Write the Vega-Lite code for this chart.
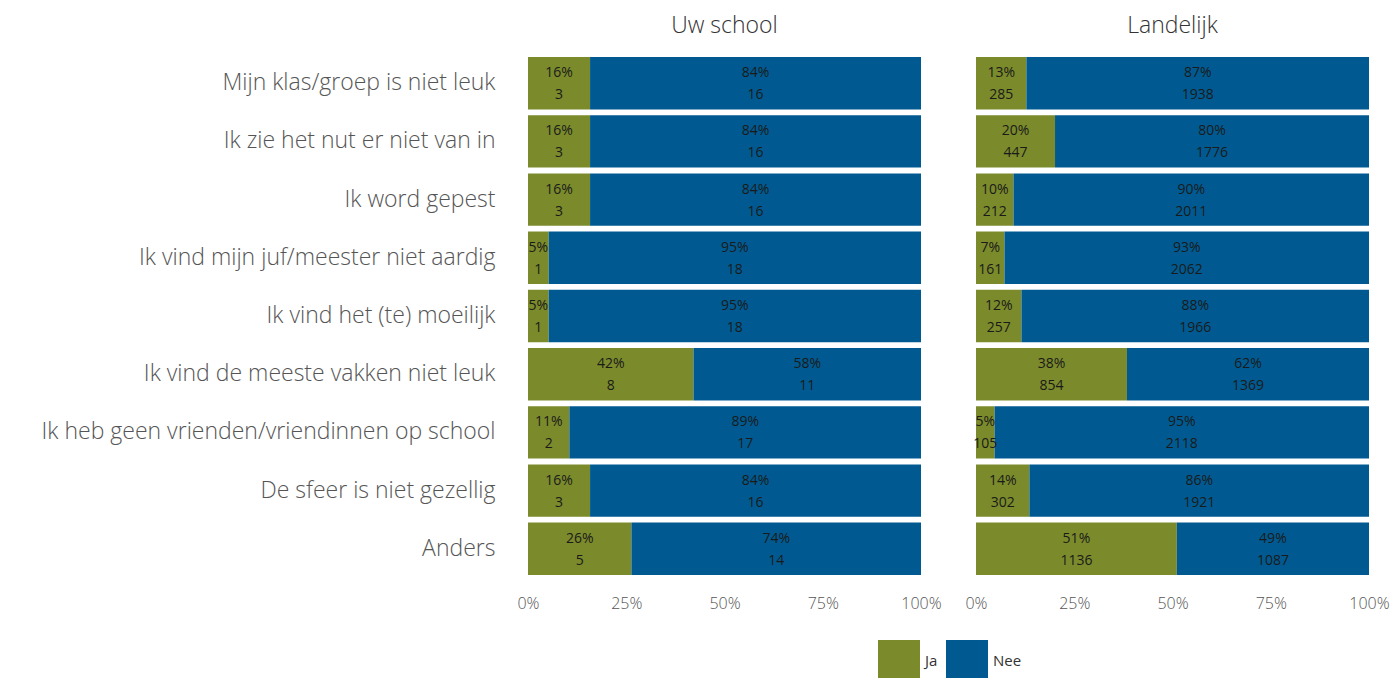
{
  "$schema": "https://vega.github.io/schema/vega-lite/v6.json",
  "background": "white",
  "padding": {"left": 5, "right": 5, "top": 15, "bottom": 0},
  "data": {
    "values": [
      {"panel": "Uw school", "item": "Mijn klas/groep is niet leuk", "answer": "Ja", "count": 3},
      {"panel": "Uw school", "item": "Mijn klas/groep is niet leuk", "answer": "Nee", "count": 16},
      {"panel": "Uw school", "item": "Ik zie het nut er niet van in", "answer": "Ja", "count": 3},
      {"panel": "Uw school", "item": "Ik zie het nut er niet van in", "answer": "Nee", "count": 16},
      {"panel": "Uw school", "item": "Ik word gepest", "answer": "Ja", "count": 3},
      {"panel": "Uw school", "item": "Ik word gepest", "answer": "Nee", "count": 16},
      {"panel": "Uw school", "item": "Ik vind mijn juf/meester niet aardig", "answer": "Ja", "count": 1},
      {"panel": "Uw school", "item": "Ik vind mijn juf/meester niet aardig", "answer": "Nee", "count": 18},
      {"panel": "Uw school", "item": "Ik vind het (te) moeilijk", "answer": "Ja", "count": 1},
      {"panel": "Uw school", "item": "Ik vind het (te) moeilijk", "answer": "Nee", "count": 18},
      {"panel": "Uw school", "item": "Ik vind de meeste vakken niet leuk", "answer": "Ja", "count": 8},
      {"panel": "Uw school", "item": "Ik vind de meeste vakken niet leuk", "answer": "Nee", "count": 11},
      {"panel": "Uw school", "item": "Ik heb geen vrienden/vriendinnen op school", "answer": "Ja", "count": 2},
      {"panel": "Uw school", "item": "Ik heb geen vrienden/vriendinnen op school", "answer": "Nee", "count": 17},
      {"panel": "Uw school", "item": "De sfeer is niet gezellig", "answer": "Ja", "count": 3},
      {"panel": "Uw school", "item": "De sfeer is niet gezellig", "answer": "Nee", "count": 16},
      {"panel": "Uw school", "item": "Anders", "answer": "Ja", "count": 5},
      {"panel": "Uw school", "item": "Anders", "answer": "Nee", "count": 14},
      {"panel": "Landelijk", "item": "Mijn klas/groep is niet leuk", "answer": "Ja", "count": 285},
      {"panel": "Landelijk", "item": "Mijn klas/groep is niet leuk", "answer": "Nee", "count": 1938},
      {"panel": "Landelijk", "item": "Ik zie het nut er niet van in", "answer": "Ja", "count": 447},
      {"panel": "Landelijk", "item": "Ik zie het nut er niet van in", "answer": "Nee", "count": 1776},
      {"panel": "Landelijk", "item": "Ik word gepest", "answer": "Ja", "count": 212},
      {"panel": "Landelijk", "item": "Ik word gepest", "answer": "Nee", "count": 2011},
      {"panel": "Landelijk", "item": "Ik vind mijn juf/meester niet aardig", "answer": "Ja", "count": 161},
      {"panel": "Landelijk", "item": "Ik vind mijn juf/meester niet aardig", "answer": "Nee", "count": 2062},
      {"panel": "Landelijk", "item": "Ik vind het (te) moeilijk", "answer": "Ja", "count": 257},
      {"panel": "Landelijk", "item": "Ik vind het (te) moeilijk", "answer": "Nee", "count": 1966},
      {"panel": "Landelijk", "item": "Ik vind de meeste vakken niet leuk", "answer": "Ja", "count": 854},
      {"panel": "Landelijk", "item": "Ik vind de meeste vakken niet leuk", "answer": "Nee", "count": 1369},
      {"panel": "Landelijk", "item": "Ik heb geen vrienden/vriendinnen op school", "answer": "Ja", "count": 105},
      {"panel": "Landelijk", "item": "Ik heb geen vrienden/vriendinnen op school", "answer": "Nee", "count": 2118},
      {"panel": "Landelijk", "item": "De sfeer is niet gezellig", "answer": "Ja", "count": 302},
      {"panel": "Landelijk", "item": "De sfeer is niet gezellig", "answer": "Nee", "count": 1921},
      {"panel": "Landelijk", "item": "Anders", "answer": "Ja", "count": 1136},
      {"panel": "Landelijk", "item": "Anders", "answer": "Nee", "count": 1087}
    ]
  },
  "transform": [
    {"stack": "count", "groupby": ["panel", "item"], "offset": "normalize", "sort": [{"field": "answer", "order": "ascending"}], "as": ["x0", "x1"]},
    {"calculate": "(datum.x0 + datum.x1) / 2", "as": "xm"},
    {"calculate": "datum.x1 - datum.x0", "as": "frac"}
  ],
  "facet": {
    "column": {
      "field": "panel",
      "type": "nominal",
      "sort": ["Uw school", "Landelijk"],
      "title": null,
      "header": {"labelFontSize": 23, "labelColor": "#333333", "labelFont": "Open Sans", "labelFontWeight": 300, "labelPadding": 8, "labelBaseline": "middle"}
    }
  },
  "spacing": 52,
  "spec": {
    "width": 393,
    "height": 518,
    "encoding": {
      "y": {
        "field": "item",
        "type": "nominal",
        "sort": ["Mijn klas/groep is niet leuk", "Ik zie het nut er niet van in", "Ik word gepest", "Ik vind mijn juf/meester niet aardig", "Ik vind het (te) moeilijk", "Ik vind de meeste vakken niet leuk", "Ik heb geen vrienden/vriendinnen op school", "De sfeer is niet gezellig", "Anders"],
        "scale": {"paddingInner": 0.1, "paddingOuter": 0},
        "axis": {"title": null, "domain": false, "ticks": false, "labelFontSize": 23, "labelColor": "#555555", "labelFont": "Open Sans", "labelFontWeight": 300, "labelPadding": 33, "labelLimit": 600, "minExtent": 523, "maxExtent": 523}
      }
    },
    "layer": [
      {
        "mark": {"type": "bar"},
        "encoding": {
          "x": {"field": "x0", "type": "quantitative", "scale": {"domain": [0, 1], "nice": false}, "axis": {"title": null, "format": ".0%", "values": [0, 0.25, 0.5, 0.75, 1], "domain": false, "ticks": false, "grid": false, "labelFontSize": 16, "labelColor": "#555555", "labelFont": "Open Sans", "labelFontWeight": 300, "labelPadding": 20, "labelFlush": false}},
          "x2": {"field": "x1"},
          "color": {
            "field": "answer",
            "type": "nominal",
            "scale": {"domain": ["Ja", "Nee"], "range": ["#7b8b2c", "#005a91"]},
            "legend": {"title": null, "orient": "none", "legendX": 350, "legendY": 583, "direction": "horizontal", "symbolType": "square", "symbolSize": 1764, "symbolStrokeWidth": 0, "symbolOpacity": 1, "labelFontSize": 15, "labelColor": "#333333", "labelFont": "Open Sans", "labelOffset": 5, "columnPadding": 8}
          }
        }
      },
      {
        "mark": {"type": "text", "baseline": "middle", "dy": -10, "fontSize": 14, "font": "Open Sans", "color": "#1a1a1a"},
        "encoding": {
          "x": {"field": "xm", "type": "quantitative"},
          "text": {"field": "frac", "type": "quantitative", "format": ".0%"}
        }
      },
      {
        "mark": {"type": "text", "baseline": "middle", "dy": 12, "fontSize": 14, "font": "Open Sans", "color": "#1a1a1a"},
        "encoding": {
          "x": {"field": "xm", "type": "quantitative"},
          "text": {"field": "count", "type": "quantitative", "format": "d"}
        }
      }
    ]
  },
  "config": {
    "view": {"stroke": null},
    "font": "Open Sans"
  }
}
